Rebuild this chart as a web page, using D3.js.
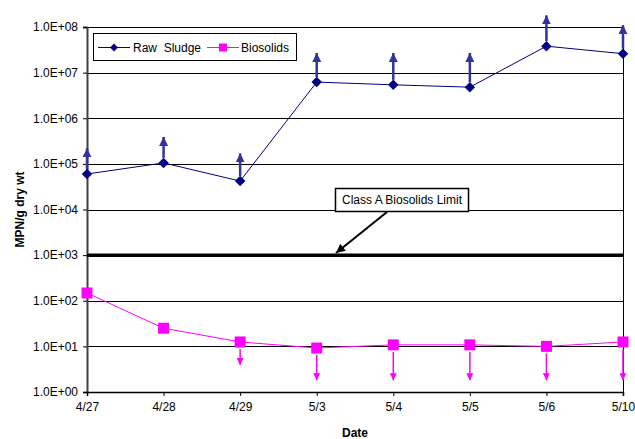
<!DOCTYPE html>
<html>
<head>
<meta charset="utf-8">
<script src="https://cdn.jsdelivr.net/npm/d3@7"></script>
<style>
    body { margin: 0; background: #fff; }
    svg { display: block; font-family: "Liberation Sans", Arial, sans-serif; }
</style>
</head>
<body>
<svg id="chart" width="635" height="439"></svg>
<script>
    // -- DATA --
    const dates = ["4/27", "4/28", "4/29", "5/3", "5/4", "5/5", "5/6", "5/10"];
    const rawSludge = [6.0e4, 1.05e5, 4.2e4, 6.2e6, 5.4e6, 4.8e6, 3.8e7, 2.6e7];
    const biosolids = [148, 25, 12.5, 9.2, 10.8, 10.8, 10, 12.5];
    // "greater than" / "less than" arrow tips
    const rawArrowTip = [2.2e5, 3.9e5, 1.7e5, 2.7e7, 2.7e7, 2.7e7, 1.8e8, 1.1e8];
    const bioArrowTip = [null, null, 3.9, 1.8, 1.8, 1.8, 1.8, 1.8];
    const yTicks = [1e0, 1e1, 1e2, 1e3, 1e4, 1e5, 1e6, 1e7, 1e8];
    const classALimit = 1e3;

    const W = 635, H = 439;
    const margin = { top: 27, right: 12, bottom: 47, left: 87 };
    const innerW = W - margin.left - margin.right;
    const innerH = H - margin.top - margin.bottom;

    const navy = "#000080", arrowNavy = "#333399", magenta = "#FF00FF";

    const svg = d3.select("#chart");

    const defs = svg.append("defs");
    function head(id, color, w, h) {
        defs.append("marker")
            .attr("id", id)
            .attr("viewBox", "0 0 10 10")
            .attr("refX", 10).attr("refY", 5)
            .attr("markerUnits", "userSpaceOnUse")
            .attr("markerWidth", h).attr("markerHeight", w)
            .attr("orient", "auto")
            .append("path")
            .attr("d", "M0,0 L10,5 L0,10 Z")
            .attr("fill", color);
    }
    head("headNavy", arrowNavy, 9, 9);
    head("headMag", magenta, 7, 7);
    head("headBlack", "#000", 9, 11);

    const g = svg.append("g").attr("transform", `translate(${margin.left},${margin.top})`);

    const x = d3.scalePoint().domain(dates).range([0, innerW]);
    const y = d3.scaleLog().domain([1e0, 1e8]).range([innerH, 0]);

    const fmt = d => {
        const e = Math.round(Math.log10(d));
        return "1.0E+" + (e < 10 ? "0" + e : e);
    };

    // -- GRID --
    g.append("g").selectAll("line")
        .data(yTicks.filter(d => d !== classALimit))
        .enter().append("line")
        .attr("x1", 0).attr("x2", innerW)
        .attr("y1", d => Math.round(y(d)) + 0.5).attr("y2", d => Math.round(y(d)) + 0.5)
        .attr("stroke", "#000").attr("stroke-width", 1);

    // right border
    g.append("line")
        .attr("x1", innerW + 0.5).attr("x2", innerW + 0.5)
        .attr("y1", 0).attr("y2", innerH)
        .attr("stroke", "#000");

    // -- AXES --
    const yAxis = g.append("g")
        .call(d3.axisLeft(y).tickValues(yTicks).tickFormat(fmt).tickSize(4).tickPadding(5));
    yAxis.select(".domain").attr("stroke", "#404040").attr("stroke-width", 2);
    yAxis.selectAll("text").attr("font-size", 12).attr("fill", "#000")
        .attr("font-family", "Liberation Sans, Arial, sans-serif");

    const xAxis = g.append("g")
        .attr("transform", `translate(0,${innerH})`)
        .call(d3.axisBottom(x).tickSize(4).tickPadding(6));
    xAxis.select(".domain").attr("stroke", "#000").attr("stroke-width", 1.5);
    xAxis.selectAll("text").attr("font-size", 12).attr("fill", "#000")
        .attr("font-family", "Liberation Sans, Arial, sans-serif");

    // axis titles
    svg.append("text")
        .attr("x", margin.left + innerW / 2).attr("y", 437)
        .attr("text-anchor", "middle")
        .attr("font-size", 12).attr("font-weight", "bold")
        .text("Date");
    svg.append("text")
        .attr("transform", `translate(24,${margin.top + innerH / 2}) rotate(-90)`)
        .attr("text-anchor", "middle")
        .attr("font-size", 12).attr("font-weight", "bold")
        .text("MPN/g dry wt");

    // -- CLASS A LIMIT --
    g.append("line")
        .attr("x1", 0).attr("x2", innerW)
        .attr("y1", y(classALimit)).attr("y2", y(classALimit))
        .attr("stroke", "#000").attr("stroke-width", 3.5);

    // -- ARROWS --
    const rawIdx = d3.range(dates.length);
    g.append("g").selectAll("line")
        .data(rawIdx)
        .enter().append("line")
        .attr("x1", i => x(dates[i])).attr("x2", i => x(dates[i]))
        .attr("y1", i => y(rawSludge[i]) - 5)
        .attr("y2", i => y(rawArrowTip[i]))
        .attr("stroke", arrowNavy).attr("stroke-width", 2.5)
        .attr("marker-end", "url(#headNavy)");

    g.append("g").selectAll("line")
        .data(rawIdx.filter(i => bioArrowTip[i] !== null))
        .enter().append("line")
        .attr("x1", i => x(dates[i])).attr("x2", i => x(dates[i]))
        .attr("y1", i => y(biosolids[i]) + 7)
        .attr("y2", i => y(bioArrowTip[i]))
        .attr("stroke", magenta).attr("stroke-width", 1.5)
        .attr("marker-end", "url(#headMag)");

    // -- SERIES --
    const lineRaw = d3.line().x((d, i) => x(dates[i])).y(d => y(d));
    g.append("path").datum(rawSludge)
        .attr("d", lineRaw).attr("fill", "none")
        .attr("stroke", navy).attr("stroke-width", 1);
    g.append("path").datum(biosolids)
        .attr("d", lineRaw).attr("fill", "none")
        .attr("stroke", magenta).attr("stroke-width", 1);

    const diamond = d3.symbol().type(d3.symbolDiamond2).size(70);
    g.append("g").selectAll("path")
        .data(rawSludge)
        .enter().append("path")
        .attr("d", diamond)
        .attr("transform", (d, i) => `translate(${x(dates[i])},${y(d)})`)
        .attr("fill", navy);

    g.append("g").selectAll("rect")
        .data(biosolids)
        .enter().append("rect")
        .attr("x", (d, i) => x(dates[i]) - 5.5).attr("y", d => y(d) - 5.5)
        .attr("width", 11).attr("height", 11)
        .attr("fill", magenta);

    // -- LABEL "Class A Biosolids Limit" --
    const lab = svg.append("g");
    lab.append("rect")
        .attr("x", 335.5).attr("y", 188.5).attr("width", 133).attr("height", 23)
        .attr("fill", "#fff").attr("stroke", "#000").attr("stroke-width", 1.5);
    lab.append("text")
        .attr("x", 402).attr("y", 204)
        .attr("text-anchor", "middle").attr("font-size", 12)
        .text("Class A Biosolids Limit");
    lab.append("line")
        .attr("x1", 387).attr("y1", 212).attr("x2", 336).attr("y2", 253)
        .attr("stroke", "#000").attr("stroke-width", 2)
        .attr("marker-end", "url(#headBlack)");

    // -- LEGEND --
    const leg = svg.append("g");
    leg.append("rect")
        .attr("x", 93.5).attr("y", 33.5).attr("width", 203).attr("height", 27)
        .attr("fill", "#fff").attr("stroke", "#000").attr("stroke-width", 1);
    const legItems = [
        { name: "Raw  Sludge", color: navy, x0: 98, tx: 133, sym: "diamond" },
        { name: "Biosolids", color: magenta, x0: 207, tx: 241, sym: "square" }
    ];
    legItems.forEach(it => {
        leg.append("line")
            .attr("x1", it.x0).attr("x2", it.x0 + 32)
            .attr("y1", 47.5).attr("y2", 47.5)
            .attr("stroke", it.color).attr("stroke-width", 1);
        if (it.sym === "diamond") {
            leg.append("path")
                .attr("d", d3.symbol().type(d3.symbolDiamond2).size(40))
                .attr("transform", `translate(${it.x0 + 16},47.5)`)
                .attr("fill", it.color);
        } else {
            leg.append("rect")
                .attr("x", it.x0 + 12).attr("y", 43.5).attr("width", 8).attr("height", 8)
                .attr("fill", it.color);
        }
        leg.append("text")
            .attr("x", it.tx).attr("y", 52)
            .attr("font-size", 12)
            .style("white-space", "pre")
            .text(it.name);
    });
</script>
</body>
</html>
